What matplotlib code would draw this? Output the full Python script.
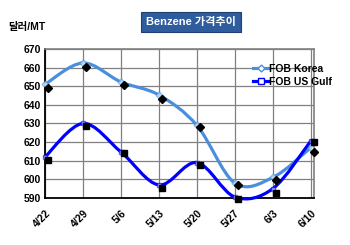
import numpy as np
import matplotlib
matplotlib.use("Agg")
import matplotlib.pyplot as plt
import matplotlib.transforms as mtransforms
from matplotlib.path import Path
from matplotlib.patches import PathPatch
from matplotlib.lines import Line2D

plt.rcParams['font.family'] = ['Liberation Sans', 'Noto Sans CJK KR', 'DejaVu Sans']

# === Data ===
dates = ["4/22", "4/29", "5/6", "5/13", "5/20", "5/27", "6/3", "6/10"]
korea = [651, 662.5, 652.3, 645.3, 629, 598, 601, 617]
us_gulf = [612, 630, 614.7, 597, 609, 590.5, 595, 620.6]
# black markers drawn on top (slightly off the lines in the original)
korea_marks = [649, 660.3, 650.7, 643.2, 628, 597, 599.7, 614.7]
gulf_marks = [610.4, 628.7, 614, 595.4, 607.7, 589.5, 592.7, 620]
yticks = [590, 600, 610, 620, 630, 640, 650, 660, 670]

KOREA_C = "#4A8FDD"
GULF_C = "#0000FF"


def smooth_path(xs, ys):
    # Excel-like smoothed line: cubic bezier through the points
    pts = np.column_stack([xs, ys]).astype(float)
    n = len(pts)
    verts = [pts[0]]
    codes = [Path.MOVETO]
    for i in range(n - 1):
        p0 = pts[i - 1] if i > 0 else pts[i]
        p1 = pts[i]
        p2 = pts[i + 1]
        p3 = pts[i + 2] if i + 2 < n else pts[i + 1]
        c1 = p1 + (p2 - p0) / 6.0
        c2 = p2 - (p3 - p1) / 6.0
        verts += [c1, c2, p2]
        codes += [Path.CURVE4] * 3
    return Path(verts, codes)


fig = plt.figure(figsize=(3.5, 2.45), dpi=100)
ax = fig.add_axes([0.1286, 0.192, 0.768, 0.608])
x = np.arange(len(dates))

ax.set_xlim(0, len(dates) - 1 + 0.08)
ax.set_ylim(590, 670)
ax.set_yticks(yticks)
ax.set_xticks(x)
ax.set_xticklabels(dates, rotation=45, ha="right", va="top",
                   rotation_mode="anchor", fontsize=7.5, fontweight="bold")
ax.set_yticklabels([str(v) for v in yticks], fontsize=7.5, fontweight="bold")
ax.tick_params(axis="both", length=0, pad=3)
ax.tick_params(axis="x", pad=7)
ax.grid(True, color="#808080", linewidth=0.9)
ax.set_axisbelow(True)
for s in ["top", "right"]:
    ax.spines[s].set_color("#808080")
    ax.spines[s].set_linewidth(1.2)
for s in ["left", "bottom"]:
    ax.spines[s].set_color("black")
    ax.spines[s].set_linewidth(1.3)

for vals, col in [(korea, KOREA_C), (us_gulf, GULF_C)]:
    ax.add_patch(PathPatch(smooth_path(x, vals), facecolor="none",
                           edgecolor=col, linewidth=2.3, zorder=3,
                           capstyle="round", clip_on=False))

ax.plot(x, korea, linestyle="none", marker="D", markersize=3.5,
        markerfacecolor="white", markeredgecolor=KOREA_C, alpha=0.6, zorder=4,
        clip_on=False)
ax.plot(x, us_gulf, linestyle="none", marker="s", markersize=3.5,
        markerfacecolor="white", markeredgecolor=GULF_C, alpha=0.6, zorder=4,
        clip_on=False)

shift = ax.transData + mtransforms.ScaledTranslation(3 / 100, 0, fig.dpi_scale_trans)
ax.plot(x, korea_marks, linestyle="none", marker="D", markersize=3.8,
        color="black", transform=shift, zorder=5, clip_on=False)
ax.plot(x, gulf_marks, linestyle="none", marker="s", markersize=4.2,
        color="black", transform=shift, zorder=5, clip_on=False)

handles = [
    Line2D([], [], color=KOREA_C, linewidth=2.3, marker="D", markersize=3.5,
           markerfacecolor="white", markeredgecolor=KOREA_C),
    Line2D([], [], color=GULF_C, linewidth=2.3, marker="s", markersize=4,
           markerfacecolor="white", markeredgecolor=GULF_C),
]
leg = ax.legend(handles, ["FOB Korea", "FOB US Gulf"], loc="upper left",
                bbox_to_anchor=(0.775, 0.9), frameon=False, fontsize=7.5,
                handlelength=1.5, handletextpad=0.05, labelspacing=0.25,
                borderaxespad=0, borderpad=0)
for t in leg.get_texts():
    t.set_fontweight("bold")

fig.text(8 / 350, 1 - 27 / 245, "달러/MT", fontsize=7.5, fontweight="bold",
         va="center", ha="left")
fig.text(191 / 350, 1 - 22.5 / 245, "Benzene 가격추이", fontsize=8,
         fontweight="bold", color="white", ha="center", va="center",
         bbox=dict(boxstyle="square,pad=0.45", facecolor="#2F5C9C",
                   edgecolor="#1F3F70", linewidth=0.8))

fig.savefig("out.png", dpi=100)
